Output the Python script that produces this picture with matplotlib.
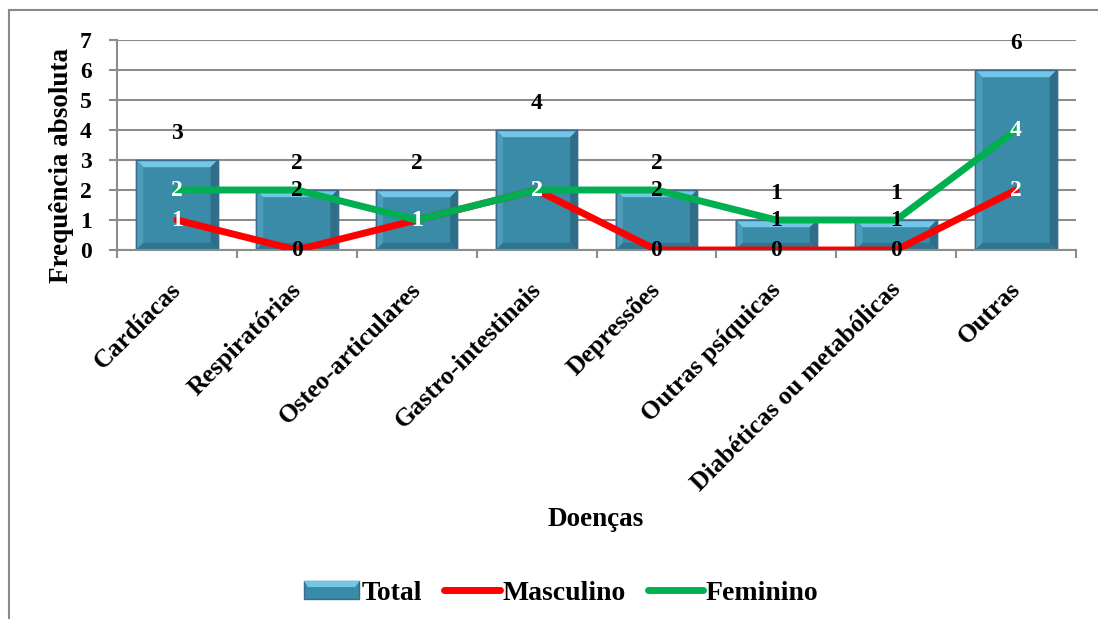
import matplotlib
matplotlib.use("Agg")
import matplotlib.pyplot as plt
from matplotlib.patches import Polygon, Rectangle, Patch
from matplotlib.lines import Line2D
from matplotlib.legend_handler import HandlerBase

# Data
categories = ["Cardíacas", "Respiratórias", "Osteo-articulares", "Gastro-intestinais",
              "Depressões", "Outras psíquicas", "Diabéticas ou metabólicas", "Outras"]
total = [3, 2, 2, 4, 2, 1, 1, 6]
masculino = [1, 0, 1, 2, 0, 0, 0, 2]
feminino = [2, 2, 1, 2, 2, 1, 1, 4]
y_ticks = [0, 1, 2, 3, 4, 5, 6, 7]

# Label colours for the series values (inside dark bar -> white)
masc_label_colors = ["white", "black", "white", "white", "black", "black", "black", "white"]
fem_label_colors = ["white", "black", "white", "white", "black", "black", "black", "white"]

FONT = "Liberation Serif"
plt.rcParams["font.family"] = [FONT, "DejaVu Serif"]
plt.rcParams["font.weight"] = "bold"

BAR_FACE = "#3A8BA7"
BAR_EDGE = "#3B6A8C"
BEVEL_TOP = "#72C6E8"
BEVEL_LEFT = "#4C9DBC"
BEVEL_RIGHT = "#2E6E89"
BEVEL_BOTTOM = "#30758F"
RED = "#FF0000"
GREEN = "#00B050"
GRID = "#8C8C8C"
LW = 5.0

W, H = 1098, 619
fig = plt.figure(figsize=(W / 100, H / 100), dpi=100)
ax = fig.add_axes([117 / W, 1 - 250 / H, (1076 - 117) / W, (250 - 40) / H])

x = list(range(len(categories)))
bars = ax.bar(x, total, width=0.68, color=BAR_FACE, edgecolor=BAR_EDGE,
              linewidth=1.0, zorder=2)

# Bevelled look on each bar, derived from the bar rectangles
dx, dy = 0.06, 0.24
for rect in bars:
    x0 = rect.get_x()
    x1 = x0 + rect.get_width()
    h = rect.get_height()
    b = min(dy, h / 3)
    top = Polygon([(x0, h), (x1, h), (x1 - dx, h - b), (x0 + dx, h - b)],
                  closed=True, facecolor=BEVEL_TOP, edgecolor="none", zorder=2.1)
    left = Polygon([(x0, 0), (x0, h), (x0 + dx, h - b), (x0 + dx, b)],
                   closed=True, facecolor=BEVEL_LEFT, edgecolor="none", zorder=2.1)
    right = Polygon([(x1, 0), (x1, h), (x1 - dx, h - b), (x1 - dx, b)],
                    closed=True, facecolor=BEVEL_RIGHT, edgecolor="none", zorder=2.1)
    bottom = Polygon([(x0, 0), (x1, 0), (x1 - dx, b), (x0 + dx, b)],
                     closed=True, facecolor=BEVEL_BOTTOM, edgecolor="none", zorder=2.1)
    for p in (top, left, right, bottom):
        ax.add_patch(p)
    ax.add_patch(Rectangle((x0, 0), x1 - x0, h, facecolor="none",
                           edgecolor=BAR_EDGE, linewidth=1.0, zorder=2.2))

ax.plot(x, masculino, color=RED, linewidth=LW, solid_capstyle="round", zorder=3)
ax.plot(x, feminino, color=GREEN, linewidth=LW, solid_capstyle="round", zorder=3)

# Value labels
lab_fs = 17
for xi, v in zip(x, total):
    ax.annotate(str(v), (xi, v), xytext=(0, 19), textcoords="offset points",
                ha="center", va="center", fontsize=lab_fs, fontweight="bold",
                color="black", zorder=5)
for xi, v, c in zip(x, feminino, fem_label_colors):
    ax.annotate(str(v), (xi, v), ha="center", va="center", fontsize=lab_fs,
                fontweight="bold", color=c, zorder=5)
for xi, v, c in zip(x, masculino, masc_label_colors):
    ax.annotate(str(v), (xi, v), ha="center", va="center", fontsize=lab_fs,
                fontweight="bold", color=c, zorder=5)

# Axes styling
ax.set_xlim(-0.5, len(categories) - 0.5)
ax.set_ylim(0, 7)
ax.set_yticks(y_ticks)
ax.set_yticklabels([str(t) for t in y_ticks], fontsize=17, fontweight="bold")
ax.yaxis.grid(True, color=GRID, linewidth=1.5, zorder=0)
ax.set_axisbelow(True)
for s in ("top", "right"):
    ax.spines[s].set_visible(False)
for s in ("left", "bottom"):
    ax.spines[s].set_color(GRID)
    ax.spines[s].set_linewidth(1.5)
ax.tick_params(axis="y", length=6, width=1.5, color=GRID, pad=12)

# Category ticks between bars, labels at bar centres
ax.set_xticks([i - 0.5 for i in range(len(categories) + 1)])
ax.set_xticklabels([])
ax.tick_params(axis="x", length=6, width=1.5, color=GRID)
for xi, name in zip(x, categories):
    ax.annotate(name, (xi, 0), xytext=(0.5, -26), textcoords="offset points",
                rotation=45, rotation_mode="anchor", ha="right", va="center",
                fontsize=18.5, fontweight="bold", annotation_clip=False)

fig.text(596 / W, 1 - 520 / H, "Doenças", ha="center", va="center",
         fontsize=19.5, fontweight="bold")
fig.text(62 / W, 1 - 166 / H, "Frequência absoluta", ha="center", va="center",
         rotation=90, fontsize=19.5, fontweight="bold")


# Legend with a bevelled box for the bar series
class BevelHandler(HandlerBase):
    def create_artists(self, legend, orig_handle, xdescent, ydescent, width,
                       height, fontsize, trans):
        x0, y0 = -xdescent, -ydescent
        base = Rectangle((x0, y0), width, height, facecolor=BAR_FACE,
                         edgecolor=BAR_EDGE, linewidth=1.0, transform=trans)
        t = height * 0.35
        topb = Polygon([(x0, y0 + height), (x0 + width, y0 + height),
                        (x0 + width - 3, y0 + height - t), (x0 + 3, y0 + height - t)],
                       closed=True, facecolor=BEVEL_TOP, edgecolor="none",
                       transform=trans)
        return [base, topb]


h_total = Patch(facecolor=BAR_FACE, edgecolor=BAR_EDGE)
h_m = Line2D([], [], color=RED, linewidth=LW, solid_capstyle="round")
h_f = Line2D([], [], color=GREEN, linewidth=LW, solid_capstyle="round")
fig.legend([h_total, h_m, h_f], ["Total", "Masculino", "Feminino"],
           handler_map={Patch: BevelHandler()}, loc="center",
           bbox_to_anchor=(561 / W, 1 - 593 / H), ncol=3, frameon=False,
           prop={"family": FONT, "weight": "bold", "size": 20},
           handlelength=2.0, handleheight=0.6, handletextpad=0.08,
           columnspacing=0.8)

# Outer chart frame (left and top edges)
fig.add_artist(Line2D([9 / W, 9 / W], [0, 1 - 10 / H], color="#8A8A8A",
                      linewidth=1.5, transform=fig.transFigure))
fig.add_artist(Line2D([9 / W, 1], [1 - 10 / H, 1 - 10 / H], color="#8A8A8A",
                      linewidth=1.5, transform=fig.transFigure))

fig.savefig("out.png", dpi=100)
